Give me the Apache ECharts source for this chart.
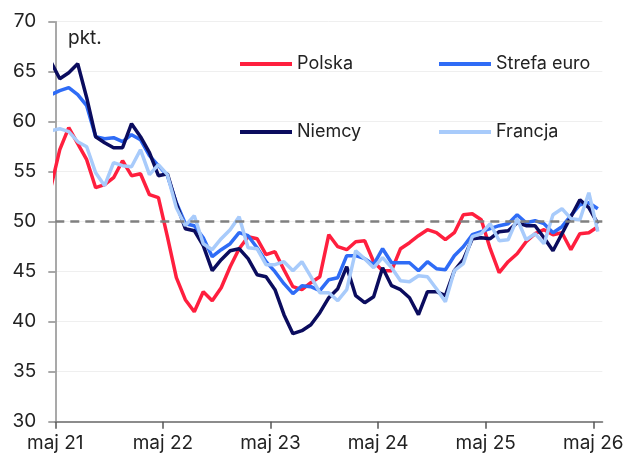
<!DOCTYPE html>
<html>
<head>
<meta charset="utf-8">
<script src="https://cdn.jsdelivr.net/npm/echarts@6/dist/echarts.min.js"></script>
<style>
html,body{margin:0;padding:0;background:#fff;}
#c{width:634px;height:455px;}
</style>
</head>
<body>
<div id="c"></div>
<script>
// Monthly observations (Apr 2021 is only partly visible, clipped at the axis start)
const months = [
 "2021-04","2021-05","2021-06","2021-07","2021-08","2021-09","2021-10","2021-11","2021-12",
 "2022-01","2022-02","2022-03","2022-04","2022-05","2022-06","2022-07","2022-08","2022-09","2022-10","2022-11","2022-12",
 "2023-01","2023-02","2023-03","2023-04","2023-05","2023-06","2023-07","2023-08","2023-09","2023-10","2023-11","2023-12",
 "2024-01","2024-02","2024-03","2024-04","2024-05","2024-06","2024-07","2024-08","2024-09","2024-10","2024-11","2024-12",
 "2025-01","2025-02","2025-03","2025-04","2025-05","2025-06","2025-07","2025-08","2025-09","2025-10","2025-11","2025-12",
 "2026-01","2026-02","2026-03","2026-04","2026-05"
];
const polska = [
 53.4,57.2,59.4,57.8,56.2,53.4,53.7,54.4,56.1,
 54.6,54.8,52.7,52.4,48.5,44.4,42.2,41.0,43.0,42.1,43.4,45.5,
 47.3,48.5,48.3,46.7,47.0,45.2,43.5,43.2,43.9,44.5,48.7,47.5,
 47.2,48.0,48.1,46.0,45.1,45.1,47.3,47.9,48.6,49.2,48.9,48.2,
 48.9,50.7,50.8,50.2,47.3,44.9,46.0,46.8,48.0,48.8,49.2,48.7,
 48.9,47.2,48.8,48.9,49.5
];
const strefaEuro = [
 62.7,63.1,63.4,62.7,61.6,58.5,58.3,58.4,58.0,
 58.7,58.2,56.6,55.6,54.6,51.9,49.8,49.6,48.4,46.5,47.2,47.8,
 48.9,48.6,47.4,46.0,45.0,43.8,42.8,43.6,43.5,43.1,44.2,44.4,
 46.6,46.6,46.3,45.7,47.3,45.9,45.9,45.9,45.1,46.0,45.3,45.2,
 46.6,47.5,48.7,49.0,49.3,49.6,49.8,50.7,49.9,50.1,49.8,48.9,
 49.5,50.6,51.7,51.9,51.3
];
const niemcy = [
 66.0,64.3,64.9,65.8,62.4,58.5,57.9,57.4,57.4,
 59.8,58.5,56.9,54.6,54.8,51.8,49.3,49.1,47.6,45.1,46.2,47.1,
 47.3,46.3,44.7,44.5,43.2,40.7,38.8,39.1,39.7,40.9,42.4,43.3,
 45.5,42.6,41.9,42.5,45.4,43.6,43.2,42.4,40.7,43.0,43.0,42.6,
 45.1,46.2,48.3,48.4,48.3,49.0,49.1,49.9,49.6,49.6,48.4,47.1,
 48.8,50.5,52.2,51.4,49.8
];
const francja = [
 59.1,59.3,59.0,58.0,57.5,54.9,53.6,55.9,55.6,
 55.5,57.2,54.7,55.7,54.7,51.4,49.6,50.6,47.8,47.2,48.3,49.2,
 50.5,47.4,47.3,45.7,45.7,46.0,45.1,46.0,44.5,42.9,42.9,42.1,
 43.2,47.1,46.3,45.4,46.4,45.4,44.1,44.0,44.6,44.5,43.3,42.0,
 45.1,45.8,48.5,48.8,49.8,48.1,48.2,50.3,48.2,48.8,47.8,50.7,
 51.3,50.3,50.2,52.9,49.0
];
const seriesNames = ["Polska","Strefa euro","Niemcy","Francja"];
const xTickLabels = ["maj 21","maj 22","maj 23","maj 24","maj 25","maj 26"];
const yTicks = [30,35,40,45,50,55,60,65,70];
const threshold = 50;

// position on axis: months since 1 May 2021, points at mid-month
function pos(m){
  const [y,mo] = m.split("-").map(Number);
  return (y-2021)*12 + (mo-5) + 0.5;
}
function toData(vals){ return months.map((m,k)=>[pos(m), vals[k]]); }

const FONT = "Inter";
const colors = ["#ff1f3e","#2f6cf6","#0b0c5e","#a8cbfb"];
const values = [polska, strefaEuro, niemcy, francja];

const chart = echarts.init(document.getElementById("c"), null, {renderer:"canvas"});
const legendPos = [[240,55],[439,55],[240,123],[439,123]];
const option = {
  animation:false,
  backgroundColor:"#ffffff",
  textStyle:{fontFamily:FONT},
  title:{text:"pkt.", left:63, top:24, textStyle:{fontFamily:FONT,fontSize:19,fontWeight:"normal",color:"#222"}},
  legend: seriesNames.map((n,i)=>({
    data:[n], left:legendPos[i][0], top:legendPos[i][1], padding:0,
    icon:"rect", itemWidth:52, itemHeight:4,
    textStyle:{fontFamily:FONT,fontSize:18,color:"#222"},
    selectedMode:false
  })),
  grid:{left:55.3, right:31.7, top:21.7, bottom:33.3},
  xAxis:{
    type:"value", min:0, max:61, interval:12,
    axisLine:{lineStyle:{color:"#8c8c8c",width:2}},
    axisTick:{show:true, length:7, lineStyle:{color:"#555",width:1.5}, customValues:[0,12,24,36,48,60]},
    axisLabel:{fontFamily:FONT,fontSize:19,color:"#222",margin:12,
      customValues:[0,12,24,36,48,60],
      formatter:v=>xTickLabels[Math.round(v/12)] || ""},
    splitLine:{show:false}
  },
  yAxis:{
    type:"value", min:yTicks[0], max:yTicks[yTicks.length-1], interval:5,
    axisLine:{show:true,lineStyle:{color:"#8c8c8c",width:1.5}},
    axisTick:{show:true,length:7,lineStyle:{color:"#8c8c8c",width:1.5}},
    axisLabel:{fontFamily:FONT,fontSize:19,color:"#222",margin:19},
    splitLine:{show:true,lineStyle:{color:"#efefef",width:1}}
  },
  series:[
    {type:"line", name:"_ref", data:[], silent:true,
     markLine:{silent:true, symbol:["none","none"], label:{show:false},
       lineStyle:{color:"#808080",type:[9,6],width:2.5},
       data:[{yAxis:threshold}]}}
  ].concat(seriesNames.map((n,i)=>({
    type:"line", name:n, data:toData(values[i]), showSymbol:false, symbol:"none",
    clip:true, lineStyle:{color:colors[i],width:3.5}, itemStyle:{color:colors[i]},
    emphasis:{disabled:true}
  })))
};
chart.setOption(option);
</script>
</body>
</html>
